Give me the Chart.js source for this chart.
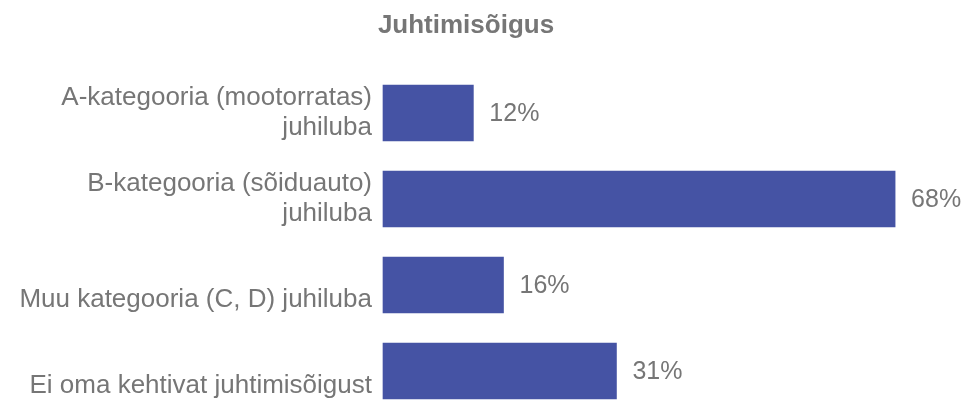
<!DOCTYPE html>
<html>
<head>
<meta charset="utf-8">
<title>Juhtimisõigus</title>
<script src="https://cdn.jsdelivr.net/npm/chart.js@4/dist/chart.umd.min.js"></script>
<style>
  html, body { margin: 0; padding: 0; background: #fff; }
  #wrap { width: 969px; height: 401px; position: relative; }
</style>
</head>
<body>
<div id="wrap"><canvas id="mycanvas"></canvas></div>
<script>
// single-line labels get an empty first line so they sit lower, like the wrapped ones
var categories = [
  ['A-kategooria (mootorratas)', 'juhiluba'],
  ['B-kategooria (sõiduauto)', 'juhiluba'],
  ['', 'Muu kategooria (C, D) juhiluba'],
  ['', 'Ei oma kehtivat juhtimisõigust']
];
var shares = [12, 68, 16, 31];
var valueLabels = ['12%', '68%', '16%', '31%'];

var textGrey = '#767676';
var barBlue = '#4553A4';

// prints the percentage to the right of each bar
var barValues = {
  id: 'barValues',
  afterDatasetsDraw: function(chart) {
    var ctx = chart.ctx;
    var meta = chart.getDatasetMeta(0);
    ctx.save();
    ctx.font = '25px "Liberation Sans", Arial, sans-serif';
    ctx.fillStyle = textGrey;
    ctx.textAlign = 'left';
    ctx.textBaseline = 'middle';
    meta.data.forEach(function(bar, i) {
      ctx.fillText(valueLabels[i], bar.x + 16, bar.y + 1);
    });
    ctx.restore();
  }
};

var ctx = document.getElementById('mycanvas');
var barChart = new Chart(ctx, {
  type: 'bar',
  data: {
    labels: categories,
    datasets: [{
      data: shares,
      backgroundColor: barBlue,
      borderWidth: 0,
      barThickness: 56,
      clip: false
    }]
  },
  plugins: [barValues],
  options: {
    indexAxis: 'y',
    responsive: true,
    maintainAspectRatio: false,
    animation: false,
    layout: { padding: { top: 0, left: 0, right: 37, bottom: 30 } },
    plugins: {
      legend: { display: false },
      tooltip: { enabled: false },
      title: {
        display: true,
        text: 'Juhtimisõigus',
        color: textGrey,
        font: { family: '"Liberation Sans", Arial, sans-serif', size: 26, weight: 'bold', lineHeight: 1.2 },
        padding: { top: 10, bottom: 71.8 }
      }
    },
    scales: {
      x: {
        display: false,
        min: 0,
        max: 72.9
      },
      y: {
        offset: false,
        grid: { display: false, drawTicks: false },
        border: { display: false },
        ticks: {
          color: textGrey,
          padding: 11,
          font: { family: '"Liberation Sans", Arial, sans-serif', size: 26, lineHeight: 1.15 }
        },
        afterFit: function(scale) {
          scale.width = 383;
          // bars overhang the end categories; let the layout padding decide the edges
          scale.paddingTop = 0;
          scale.paddingBottom = 0;
        }
      }
    }
  }
});
</script>
</body>
</html>
